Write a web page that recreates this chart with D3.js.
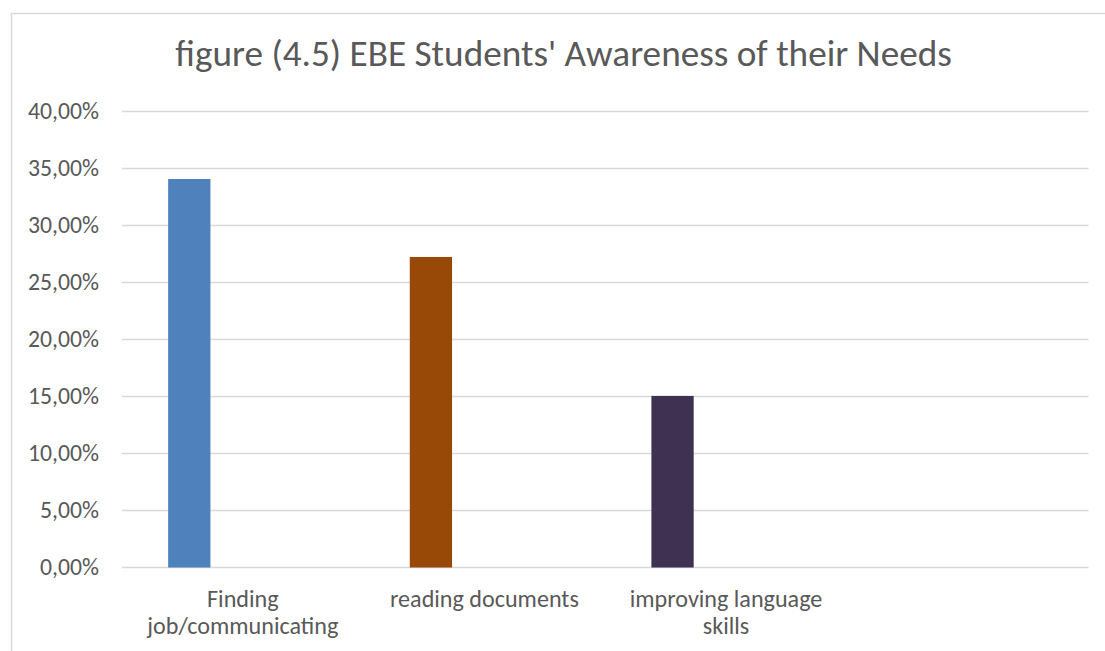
<!DOCTYPE html>
<html>
<head>
<meta charset="utf-8">
<script src="https://cdn.jsdelivr.net/npm/d3@7"></script>
<style>
  html, body { margin: 0; padding: 0; background: #fff; }
  svg { display: block; }
  text { font-family: Carlito, Calibri, Lato, "Open Sans", sans-serif; fill: #595959; }
</style>
</head>
<body>
<svg id="chart" width="1105" height="651"></svg>
<script>
const titleText = "figure (4.5) EBE Students' Awareness of their Needs";
const categories = ["Finding job/communicating", "reading documents", "improving language skills", ""];
const categoryLines = [["Finding", "job/communicating"], ["reading documents"], ["improving language", "skills"], []];
const values = [34.08, 27.24, 15.05];
const barColors = ["#4F81BD", "#984807", "#3F3151"];
const yTicks = [0, 5, 10, 15, 20, 25, 30, 35, 40];

const svg = d3.select("#chart");
const W = 1105, H = 651;
const plot = { left: 122, right: 1088.5, top: 111.5, bottom: 567.5 };

// chart frame (extends past the canvas on the right and bottom)
svg.append("rect")
  .attr("x", 11.5).attr("y", 13.5)
  .attr("width", 1200).attr("height", 800)
  .attr("fill", "#fff").attr("stroke", "#d9d9d9").attr("stroke-width", 1.5);

const x = d3.scaleBand().domain(categories.map((c, i) => i)).range([plot.left, plot.right]).padding(0);
const y = d3.scaleLinear().domain([0, 40]).range([plot.bottom, plot.top]);

function fitSize(sel, targetWidth, startSize) {
  sel.style("font-size", startSize + "px");
  const w = sel.node().getComputedTextLength();
  const s = startSize * targetWidth / w;
  sel.style("font-size", s + "px");
  return s;
}

// gridlines
svg.append("g").selectAll("line").data(yTicks).join("line")
  .attr("x1", plot.left).attr("x2", plot.right)
  .attr("y1", d => y(d)).attr("y2", d => y(d))
  .attr("stroke", "#d9d9d9").attr("stroke-width", 1.3);

// y tick labels
const fmt = d => d3.format(".2f")(d).replace(".", ",") + "%";
const probe = svg.append("text").text(fmt(40));
const tickSize = fitSize(probe, 71, 20);
probe.remove();
svg.append("g").selectAll("text").data(yTicks).join("text")
  .attr("x", 99).attr("y", d => y(d))
  .attr("dy", "0.32em")
  .attr("text-anchor", "end")
  .style("font-size", tickSize + "px")
  .text(fmt);

// bars
svg.append("g").selectAll("rect").data(values).join("rect")
  .attr("x", (d, i) => x(i) + x.bandwidth() * 0.191)
  .attr("width", x.bandwidth() * 0.175)
  .attr("y", d => y(d))
  .attr("height", d => y(0) - y(d))
  .attr("fill", (d, i) => barColors[i]);

// category labels
const probe2 = svg.append("text").text("reading documents");
const catSize = fitSize(probe2, 189, 20);
probe2.remove();
const cat = svg.append("g").selectAll("text").data(categoryLines).join("text")
  .attr("text-anchor", "middle")
  .attr("x", (d, i) => x(i) + x.bandwidth() / 2)
  .attr("y", 607)
  .style("font-size", catSize + "px");
cat.selectAll("tspan").data(d => d).join("tspan")
  .attr("x", function() { return d3.select(this.parentNode).attr("x"); })
  .attr("dy", (d, i) => i === 0 ? 0 : 27)
  .text(d => d);

// title
const title = svg.append("text")
  .attr("x", 563.5).attr("y", 66)
  .attr("text-anchor", "middle")
  .text(titleText);
fitSize(title, 777, 29);
</script>
</body>
</html>
